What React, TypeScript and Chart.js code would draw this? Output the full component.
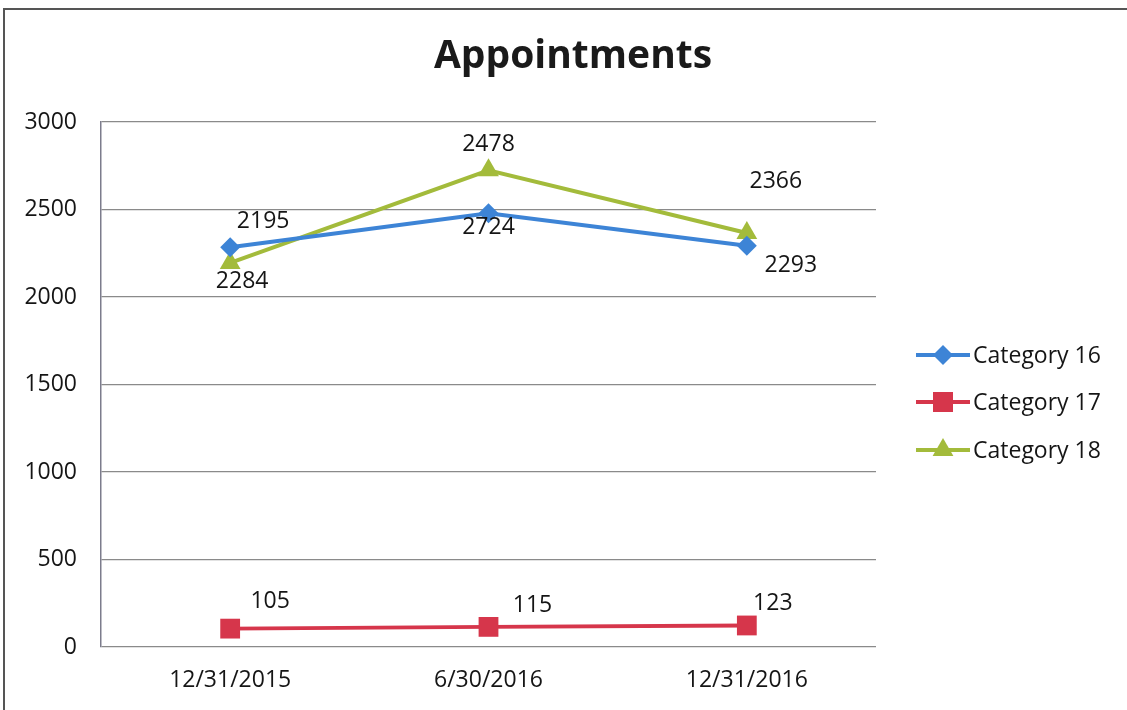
import React, { useEffect, useRef } from "react";
import { Chart, registerables } from "chart.js";

Chart.register(...registerables);

const CATEGORIES = ["12/31/2015", "6/30/2016", "12/31/2016"];
const SERIES_NAMES = ["Category 16", "Category 17", "Category 18"];
const CAT16 = [2284, 2478, 2293];
const CAT17 = [105, 115, 123];
const CAT18 = [2195, 2724, 2366];
// data label texts as printed in the original chart
const LABELS16 = ["2195", "2724", "2293"];
const LABELS17 = ["105", "115", "123"];
const LABELS18 = ["2284", "2478", "2366"];
const Y_TICKS = [0, 500, 1000, 1500, 2000, 2500, 3000];

const TITLE = "Appointments";
const FONT = "'Open Sans', 'DejaVu Sans', sans-serif";
const COLORS = ["#3d84d6", "#d6364b", "#a3bb3b"];
const MARKERS = ["rectRot", "rect", "triangle"];
// label offsets in px relative to each point
const LABEL_OFFSETS = [
  [[33, -26], [0, 14], [44, 20]],
  [[40, -27], [44, -21], [26, -22]],
  [[12, 19], [0, -26], [29, -51]],
];

function drawMarker(ctx: CanvasRenderingContext2D, style: string, x: number, y: number, color: string) {
  ctx.save();
  ctx.fillStyle = color;
  ctx.beginPath();
  if (style === "rectRot") {
    const r = 10;
    ctx.moveTo(x, y - r);
    ctx.lineTo(x + r, y);
    ctx.lineTo(x, y + r);
    ctx.lineTo(x - r, y);
  } else if (style === "rect") {
    const s = 10;
    ctx.rect(x - s, y - s, 2 * s, 2 * s);
  } else {
    const r = 12;
    ctx.moveTo(x, y - r);
    ctx.lineTo(x + r * 0.866, y + r * 0.5);
    ctx.lineTo(x - r * 0.866, y + r * 0.5);
  }
  ctx.closePath();
  ctx.fill();
  ctx.restore();
}

const decorPlugin = {
  id: "decor",
  beforeDraw(chart: any) {
    const ctx = chart.ctx;
    ctx.save();
    ctx.strokeStyle = "#555";
    ctx.lineWidth = 2;
    ctx.beginPath();
    ctx.moveTo(4, 710);
    ctx.lineTo(4, 9);
    ctx.lineTo(1127, 9);
    ctx.stroke();
    ctx.restore();
  },
  afterDraw(chart: any) {
    const ctx = chart.ctx;
    ctx.save();
    // title
    ctx.fillStyle = "#1a1a1a";
    ctx.font = `bold 39px ${FONT}`;
    ctx.textAlign = "center";
    ctx.textBaseline = "middle";
    ctx.fillText(TITLE, 573, 57);

    // data labels
    const labelSets = [LABELS16, LABELS17, LABELS18];
    ctx.font = `23px ${FONT}`;
    ctx.fillStyle = "#151515";
    chart.data.datasets.forEach((_: any, i: number) => {
      const meta = chart.getDatasetMeta(i);
      meta.data.forEach((pt: any, j: number) => {
        const [dx, dy] = LABEL_OFFSETS[i][j];
        ctx.fillText(labelSets[i][j], pt.x + dx, pt.y + dy);
      });
    });

    // legend
    const lx = 916;
    const ly = [355, 402, 450];
    ctx.textAlign = "left";
    SERIES_NAMES.forEach((name, i) => {
      ctx.strokeStyle = COLORS[i];
      ctx.lineWidth = 4;
      ctx.beginPath();
      ctx.moveTo(lx, ly[i]);
      ctx.lineTo(lx + 54, ly[i]);
      ctx.stroke();
      drawMarker(ctx, MARKERS[i], lx + 27, ly[i], COLORS[i]);
      ctx.fillStyle = "#151515";
      ctx.fillText(name, lx + 57, ly[i] + 1);
    });
    ctx.restore();
  },
};

export default function App() {
  const ref = useRef<HTMLCanvasElement | null>(null);
  useEffect(() => {
    document.body.style.margin = "0";
    const canvas = ref.current;
    if (!canvas) return;
    const values = [CAT16, CAT17, CAT18];
    const chart = new Chart(canvas, {
      type: "line",
      data: {
        labels: CATEGORIES,
        datasets: SERIES_NAMES.map((name, i) => ({
          label: name,
          data: values[i],
          borderColor: COLORS[i],
          backgroundColor: COLORS[i],
          borderWidth: 4,
          pointStyle: MARKERS[i] as any,
          pointRadius: i === 0 ? 10 : i === 1 ? 14 : 12,
          pointBorderWidth: 0,
          tension: 0,
        })),
      },
      options: {
        animation: false,
        responsive: false,
        maintainAspectRatio: false,
        layout: { padding: { top: 122, right: 251, bottom: 0, left: 0 } },
        plugins: {
          legend: { display: false },
          title: { display: false },
          tooltip: { enabled: false },
        },
        scales: {
          x: {
            offset: true,
            grid: { display: false, drawTicks: false },
            border: { display: false },
            ticks: {
              color: "#151515",
              font: { family: FONT, size: 23 },
              padding: 20,
              maxRotation: 0,
            },
            afterFit(scale: any) {
              scale.height = 63;
            },
          },
          y: {
            min: 0,
            max: 3000,
            afterBuildTicks(scale: any) {
              scale.ticks = Y_TICKS.map((v) => ({ value: v }));
            },
            grid: { color: "#8a8a8a", lineWidth: 1.2, drawTicks: false },
            border: { display: true, color: "#7c7c8c", width: 1.5 },
            ticks: {
              color: "#151515",
              font: { family: FONT, size: 23 },
              padding: 24,
              callback: (v: any) => String(v),
            },
            afterFit(scale: any) {
              scale.width = 101;
            },
          },
        },
      },
      plugins: [decorPlugin],
    });
    return () => chart.destroy();
  }, []);
  return <canvas ref={ref} width={1127} height={710} style={{ display: "block" }} />;
}
